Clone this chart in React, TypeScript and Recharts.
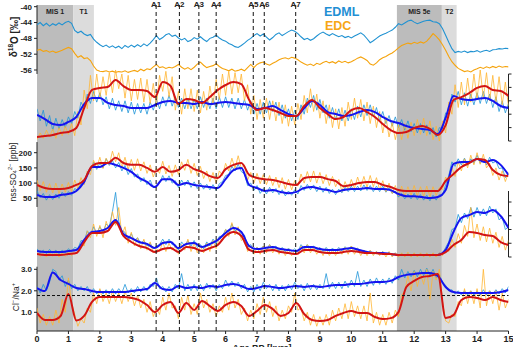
import React from "react";
import {
  ComposedChart,
  Line,
  XAxis,
  YAxis,
  ReferenceArea,
  ReferenceLine,
} from "recharts";

const W = 513;
const H = 347;
const TOP = 5;
const BOTTOM = 331;
const AXIS_W = 0.01; // axes must have some width or Recharts skips them

// sample grids, kyr
const RAW_AGES = Array.from({ length: 151 }, (_, i) => i / 10);
const SMOOTH_AGES = Array.from({ length: 61 }, (_, i) => i / 4);

const STAGES = ["MIS 1", "T1", "MIS 5e", "T2"];
const STAGE_FROM = [0, 1.15, 11.45, 12.88];
const STAGE_TO = [1.15, 1.81, 12.88, 13.35];

const EVENTS = ["A1", "A2", "A3", "A4", "A5", "A6", "A7"];
const EVENT_AGES = [3.79, 4.53, 5.15, 5.7, 6.88, 7.23, 8.23];

const X_TICKS = [0, 1, 2, 3, 4, 5, 6, 7, 8, 9, 10, 11, 12, 13, 14, 15];
const D18O_TICKS = [-56, -52, -48, -44, -40];
const SO4_TICKS = [50, 100, 150, 200];
const CLNA_TICKS = [1, 2, 3];
const P2_TICKS = [0, 1, 2, 3, 4, 5];
const P4_TICKS = [1, 2, 3, 4, 5];
const SEAWATER_CLNA = 1.78;

// δ18O, 0.1 kyr steps
const D18O_EDML = [
  -44.6, -44.0, -44.8, -44.2, -44.9, -44.3, -44.7, -44.1, -44.6, -44.0,
  -43.7, -44.2, -46.0, -46.6, -46.2, -46.9, -47.3, -47.0, -48.2, -49.0,
  -49.6, -50.1, -49.7, -50.3, -49.9, -50.4, -50.0, -50.6, -49.8, -50.3,
  -49.7, -50.2, -49.6, -50.1, -49.4, -49.9, -49.2, -48.3, -47.3, -48.3,
  -47.8, -47.1, -46.8, -47.5, -47.2, -47.9, -48.4, -48.0, -48.8, -48.5,
  -47.8, -48.2, -47.6, -48.3, -48.8, -48.0, -47.7, -47.2, -47.9, -48.4,
  -48.7, -49.3, -49.6, -50.1, -50.3, -49.8, -49.2, -48.5, -48.0, -47.3,
  -46.8, -47.4, -46.9, -47.7, -48.4, -47.8, -47.0, -46.6, -47.3, -46.8,
  -46.3, -45.9, -46.2, -46.8, -47.6, -48.3, -48.0, -48.5, -48.1, -47.4,
  -46.8, -46.4, -46.9, -47.3, -46.8, -47.2, -47.6, -47.3, -47.8, -47.5,
  -47.9, -47.4, -47.0, -46.6, -47.2, -48.1, -49.1, -48.6, -48.0, -47.4,
  -47.0, -46.7, -46.3, -45.9, -45.2, -44.3, -44.6, -44.1, -43.6, -43.4,
  -43.9, -44.3, -44.0, -43.7, -43.5, -43.4, -43.8, -43.9, -44.3, -45.5,
  -47.2, -49.0, -50.6, -51.6, -51.3, -51.5, -51.2, -51.6, -51.3, -51.4,
  -51.1, -51.5, -51.2, -51.0, -51.3, -50.9, -50.8, -50.6, -50.7, -50.5,
  -50.6,
];
const D18O_EDC = [
  -51.0, -50.8, -51.3, -51.1, -51.5, -51.2, -51.6, -51.3, -51.0, -50.6,
  -50.3, -50.6, -51.8, -52.8, -52.4, -53.1, -52.9, -53.6, -55.0, -56.0,
  -56.3, -56.4, -56.2, -56.5, -56.3, -56.6, -56.4, -56.5, -56.2, -56.6,
  -56.3, -56.1, -56.4, -55.8, -56.2, -55.7, -55.9, -55.2, -54.6, -55.4,
  -55.2, -55.6, -55.3, -55.5, -55.1, -54.6, -55.3, -55.8, -55.4, -55.9,
  -55.3, -54.5, -54.0, -54.8, -55.4, -55.1, -54.9, -54.4, -55.1, -55.6,
  -55.9, -56.2, -55.8, -56.3, -56.1, -55.8, -56.2, -55.4, -54.6, -55.4,
  -54.6, -54.2, -54.0, -54.5, -54.8, -54.3, -53.9, -53.4, -53.1, -52.9,
  -53.2, -52.8, -53.0, -53.4, -54.0, -54.4, -54.8, -54.5, -54.9, -54.3,
  -54.6, -54.1, -53.8, -54.2, -53.9, -54.3, -53.7, -54.1, -53.8, -54.2,
  -53.9, -53.5, -53.0, -52.7, -53.1, -53.6, -54.5, -54.8, -54.2, -53.4,
  -52.9, -52.6, -52.1, -51.7, -51.1, -50.4, -49.8, -49.5, -49.2, -49.4,
  -49.0, -49.3, -48.9, -49.2, -48.7, -47.8, -46.8, -47.5, -48.4, -49.6,
  -51.0, -52.6, -53.9, -54.8, -55.6, -56.0, -56.4, -56.2, -56.5, -56.0,
  -55.7, -55.3, -55.6, -55.2, -55.5, -55.1, -55.4, -55.0, -55.3, -55.1,
  -55.2,
];

// second record (right axis, upper), raw 0.1 kyr and smoothed 0.25 kyr
const P2_EDML_RAW = [
  2.4, 1.5, 2.3, 1.1, 1.9, 0.8, 1.7, 0.9, 1.6, 1.0,
  1.8, 1.3, 2.2, 1.7, 2.9, 2.4, 3.5, 2.8, 3.7, 2.9,
  3.6, 2.7, 3.3, 2.4, 3.2, 2.3, 3.0, 2.2, 3.0, 2.1,
  2.9, 2.0, 2.8, 2.1, 2.8, 2.0, 2.9, 2.3, 3.1, 2.4,
  3.3, 2.6, 3.4, 2.6, 3.3, 2.5, 3.2, 2.4, 3.2, 2.4,
  3.1, 2.4, 3.3, 2.5, 3.2, 2.4, 3.2, 2.4, 3.3, 2.5,
  3.3, 2.5, 3.2, 2.4, 3.2, 2.4, 3.1, 2.3, 3.0, 2.0,
  2.8, 2.0, 2.9, 2.1, 3.0, 2.2, 2.9, 1.9, 2.7, 1.7,
  2.4, 1.5, 2.3, 1.6, 2.7, 2.0, 3.2, 2.5, 3.4, 2.3,
  3.1, 2.1, 2.7, 1.7, 2.5, 1.6, 2.4, 1.5, 2.3, 1.5,
  2.4, 1.6, 2.6, 1.8, 2.7, 1.9, 2.7, 1.8, 2.5, 1.5,
  2.2, 1.3, 1.9, 1.1, 1.8, 1.0, 1.6, 0.8, 1.5, 0.7,
  1.3, 0.6, 1.3, 0.6, 1.2, 0.5, 1.0, 0.3, 1.0, 0.9,
  2.1, 2.0, 3.5, 2.9, 3.7, 2.7, 3.6, 2.6, 3.5, 2.7,
  3.6, 2.8, 3.7, 2.8, 3.5, 2.5, 3.3, 2.2, 3.0, 2.1,
  2.8,
];
const P2_EDC_RAW = [
  0.1, 0.6, 0.2, 0.8, 0.3, 0.9, 0.2, 1.0, 0.4, 1.1,
  0.5, 1.3, 0.4, 2.2, 1.2, 3.8, 2.4, 4.9, 3.0, 5.0,
  3.2, 4.8, 3.4, 5.1, 3.6, 5.3, 3.9, 5.0, 3.2, 4.9,
  3.0, 4.6, 3.1, 4.7, 2.9, 4.6, 2.8, 4.3, 2.6, 4.9,
  3.7, 5.2, 3.3, 4.8, 2.3, 3.7, 2.0, 3.9, 2.4, 3.9,
  2.2, 3.8, 2.1, 3.7, 2.3, 4.1, 2.7, 4.6, 3.1, 5.0,
  3.4, 5.2, 3.5, 5.1, 3.6, 5.0, 3.0, 4.2, 2.0, 3.4,
  1.6, 3.1, 1.7, 3.2, 1.6, 3.0, 1.5, 2.9, 1.3, 2.7,
  1.1, 2.6, 1.2, 2.8, 1.6, 3.4, 2.1, 3.9, 2.2, 3.5,
  1.7, 3.0, 1.3, 2.7, 1.0, 2.4, 0.9, 2.5, 1.1, 2.9,
  1.6, 3.2, 1.7, 3.1, 1.5, 2.9, 1.3, 2.6, 1.0, 2.2,
  0.6, 1.8, 0.3, 1.4, 0.1, 1.2, 0.1, 1.3, 0.2, 1.4,
  0.4, 1.6, 0.5, 1.7, 0.4, 1.5, 0.1, 1.1, 0.0, 1.5,
  0.6, 2.9, 2.0, 4.2, 2.5, 4.4, 2.7, 4.7, 2.9, 5.0,
  3.1, 5.3, 3.2, 5.1, 3.0, 4.9, 2.9, 4.8, 2.7, 4.4,
  2.6,
];
const P2_EDML_SMOOTH = [
  1.94, 1.64, 1.27, 1.19, 1.42, 1.79, 2.76, 3.21, 3.21, 2.84,
  2.69, 2.61, 2.46, 2.46, 2.46, 2.69, 2.91, 2.99, 2.84, 2.84,
  2.76, 2.91, 2.76, 2.84, 2.91, 2.84, 2.76, 2.69, 2.39, 2.46,
  2.61, 2.31, 2.01, 1.87, 2.46, 2.99, 2.69, 2.16, 2.01, 1.87,
  1.94, 2.16, 2.31, 2.16, 1.79, 1.49, 1.34, 1.12, 0.97, 0.9,
  0.82, 0.52, 1.72, 3.36, 3.13, 3.06, 3.13, 3.21, 2.99, 2.61,
  2.46,
];
const P2_EDC_SMOOTH = [
  0.3, 0.37, 0.45, 0.6, 0.67, 0.97, 2.46, 3.81, 3.96, 4.03,
  4.55, 4.1, 3.81, 3.81, 3.73, 3.28, 4.4, 4.1, 2.76, 3.13,
  3.06, 2.84, 3.28, 3.81, 4.18, 4.4, 4.25, 3.06, 2.31, 2.46,
  2.31, 2.09, 1.87, 1.87, 2.61, 3.06, 2.46, 2.01, 1.64, 1.79,
  2.31, 2.46, 2.16, 1.79, 1.27, 0.82, 0.6, 0.67, 0.97, 1.12,
  0.9, 0.45, 1.19, 3.06, 3.28, 3.58, 3.96, 4.1, 3.81, 3.73,
  3.36,
];

// nss-SO4 2- [ppb]
const SO4_EDML_RAW = [
  75, 52, 66, 44, 62, 46, 64, 50, 70, 56,
  72, 60, 82, 76, 100, 98, 135, 140, 168, 145,
  165, 150, 180, 158, 175, 150, 168, 140, 158, 128,
  148, 120, 130, 105, 118, 95, 110, 85, 92, 100,
  125, 105, 124, 100, 108, 85, 110, 92, 110, 86,
  104, 82, 100, 80, 96, 78, 95, 76, 98, 105,
  125, 128, 155, 140, 162, 138, 130, 92, 100, 76,
  92, 66, 82, 64, 86, 68, 82, 62, 78, 58,
  74, 60, 78, 64, 92, 76, 96, 78, 94, 72,
  90, 70, 86, 66, 80, 62, 80, 68, 86, 72,
  90, 72, 90, 74, 94, 76, 92, 72, 90, 72,
  90, 70, 84, 66, 74, 54, 66, 48, 64, 48,
  66, 46, 62, 44, 60, 42, 60, 44, 62, 60,
  95, 125, 170, 155, 180, 160, 182, 158, 180, 165,
  192, 165, 180, 160, 185, 166, 172, 148, 150, 118,
  130,
];
const SO4_EDC_RAW = [
  110, 75, 105, 70, 98, 68, 100, 66, 97, 70,
  102, 72, 110, 82, 118, 95, 140, 128, 175, 150,
  185, 148, 182, 160, 205, 170, 200, 150, 185, 145,
  178, 142, 180, 140, 170, 132, 160, 120, 150, 132,
  172, 130, 158, 122, 160, 128, 170, 142, 178, 132,
  165, 125, 155, 115, 140, 105, 135, 100, 140, 125,
  165, 140, 182, 148, 190, 148, 160, 110, 135, 100,
  132, 98, 128, 95, 125, 92, 120, 85, 118, 80,
  112, 78, 108, 90, 130, 100, 138, 104, 140, 100,
  135, 98, 128, 92, 122, 88, 112, 72, 105, 78,
  112, 82, 120, 88, 122, 86, 125, 88, 118, 78,
  108, 72, 100, 66, 92, 58, 90, 55, 88, 60,
  92, 58, 88, 56, 90, 55, 88, 60, 85, 78,
  120, 105, 150, 122, 170, 140, 180, 150, 192, 160,
  200, 162, 195, 150, 165, 125, 150, 110, 140, 105,
  135,
];
const SO4_EDML_SMOOTH = [
  61, 54, 54, 61, 64, 74, 104, 153, 153, 166,
  160, 150, 137, 117, 104, 87, 113, 113, 94, 100,
  94, 90, 87, 84, 113, 143, 150, 94, 84, 74,
  77, 71, 67, 71, 84, 87, 81, 77, 71, 77,
  81, 81, 84, 81, 81, 77, 64, 57, 57, 54,
  51, 54, 77, 163, 169, 169, 179, 169, 176, 160,
  127,
];
const SO4_EDC_SMOOTH = [
  94, 84, 81, 81, 84, 94, 110, 156, 166, 166,
  183, 166, 160, 160, 150, 137, 153, 137, 143, 160,
  146, 137, 123, 117, 146, 160, 166, 127, 117, 113,
  110, 104, 97, 94, 117, 120, 120, 113, 107, 90,
  94, 100, 104, 104, 94, 87, 77, 74, 74, 74,
  74, 74, 107, 130, 153, 166, 179, 176, 143, 127,
  123,
];

// fourth record (right axis, lower)
const P4_EDML_RAW = [
  1.6, 1.3, 1.5, 1.25, 1.55, 1.3, 1.5, 1.25, 1.5, 1.3,
  1.6, 1.4, 1.7, 1.6, 2.2, 2.1, 2.9, 2.6, 3.2, 2.7,
  3.2, 2.8, 3.4, 3.2, 4.3, 5.7, 3.6, 2.9, 2.8, 2.3,
  2.7, 2.2, 2.4, 2.0, 2.2, 1.8, 2.0, 1.6, 1.8, 1.9,
  2.3, 1.9, 2.3, 1.9, 1.9, 1.5, 2.1, 1.8, 2.2, 1.8,
  2.2, 1.7, 1.9, 1.6, 2.1, 1.8, 2.3, 2.0, 2.5, 2.5,
  3.0, 2.8, 3.4, 2.9, 3.1, 2.5, 2.6, 1.7, 1.9, 1.5,
  1.7, 1.5, 1.8, 1.5, 1.9, 1.6, 1.8, 1.4, 1.7, 1.4,
  1.65, 1.4, 1.6, 1.4, 1.9, 1.6, 1.9, 1.6, 1.8, 1.5,
  1.7, 1.4, 1.7, 1.4, 1.65, 1.4, 1.7, 1.45, 1.75, 1.5,
  1.8, 1.5, 1.65, 1.35, 1.5, 1.25, 1.45, 1.2, 1.4, 1.2,
  1.4, 1.15, 1.35, 1.1, 1.3, 1.05, 1.25, 1.05, 1.25, 1.05,
  1.25, 1.05, 1.25, 1.05, 1.25, 1.05, 1.25, 1.05, 1.3, 1.2,
  1.7, 2.1, 3.0, 3.1, 4.1, 3.5, 4.2, 3.8, 4.6, 3.9,
  4.6, 4.0, 4.5, 4.0, 4.7, 4.2, 4.5, 3.7, 3.9, 3.0,
  3.2,
];
const P4_EDC_RAW = [
  1.3, 1.05, 1.25, 1.0, 1.3, 1.05, 1.35, 1.0, 1.3, 1.05,
  1.4, 1.1, 1.5, 1.4, 2.0, 1.8, 2.9, 2.4, 3.4, 2.5,
  3.3, 2.4, 3.6, 2.9, 4.3, 3.3, 4.6, 2.6, 3.2, 2.0,
  2.8, 1.8, 2.4, 1.6, 2.3, 1.5, 2.1, 1.3, 1.6, 1.4,
  2.1, 1.4, 2.0, 1.5, 1.8, 1.2, 1.9, 1.5, 2.3, 1.4,
  2.0, 1.3, 1.8, 1.3, 2.0, 1.4, 2.2, 1.6, 2.4, 2.2,
  3.0, 2.5, 3.5, 2.6, 3.2, 2.2, 2.4, 1.4, 1.8, 1.2,
  1.7, 1.2, 1.8, 1.3, 1.9, 1.3, 1.7, 1.2, 1.6, 1.1,
  1.6, 1.1, 1.5, 1.2, 1.8, 1.3, 1.9, 1.3, 1.7, 1.2,
  1.6, 1.1, 1.6, 1.1, 1.5, 1.1, 1.6, 1.2, 1.7, 1.2,
  1.8, 1.2, 1.6, 1.1, 1.5, 1.1, 1.5, 1.1, 1.4, 1.1,
  1.4, 1.0, 1.4, 1.0, 1.3, 1.0, 1.3, 1.0, 1.35, 1.0,
  1.3, 1.0, 1.3, 1.0, 1.3, 1.0, 1.3, 1.0, 1.3, 1.1,
  1.6, 1.4, 2.3, 1.7, 2.7, 2.0, 3.3, 2.5, 4.6, 2.4,
  3.4, 2.2, 3.2, 2.1, 3.1, 2.0, 2.8, 1.7, 2.5, 1.5,
  2.2,
];
const P4_EDML_SMOOTH = [
  1.44, 1.36, 1.36, 1.36, 1.44, 1.51, 2.24, 2.82, 2.89, 3.11,
  3.69, 2.67, 2.38, 2.09, 1.95, 1.65, 2.02, 2.09, 1.65, 1.95,
  2.02, 1.73, 1.95, 2.24, 2.75, 3.11, 2.82, 1.8, 1.58, 1.65,
  1.73, 1.58, 1.51, 1.44, 1.73, 1.73, 1.58, 1.51, 1.51, 1.58,
  1.65, 1.51, 1.36, 1.29, 1.29, 1.22, 1.15, 1.15, 1.15, 1.15,
  1.15, 1.15, 1.51, 2.82, 3.84, 4.05, 4.27, 4.2, 4.42, 3.98,
  3.11,
];
const P4_EDC_SMOOTH = [
  1.22, 1.15, 1.15, 1.15, 1.22, 1.29, 2.09, 2.75, 2.75, 2.89,
  3.55, 2.53, 2.09, 1.8, 1.65, 1.36, 1.58, 1.65, 1.36, 1.73,
  1.65, 1.44, 1.65, 1.87, 2.53, 2.82, 2.53, 1.51, 1.36, 1.44,
  1.51, 1.36, 1.29, 1.22, 1.51, 1.51, 1.36, 1.29, 1.29, 1.36,
  1.44, 1.36, 1.29, 1.29, 1.22, 1.22, 1.15, 1.15, 1.15, 1.15,
  1.15, 1.15, 1.36, 1.87, 2.24, 2.82, 2.75, 2.6, 2.53, 2.09,
  1.87,
];

// Cl-/Na+
const CLNA_EDML_RAW = [
  2.2, 1.9, 2.3, 2.0, 2.4, 3.0, 2.9, 2.5, 2.7, 2.2,
  2.5, 2.1, 2.3, 2.0, 2.2, 2.0, 2.2, 1.9, 2.1, 1.85,
  2.05, 1.85, 2.05, 1.85, 2.1, 1.85, 2.1, 1.9, 2.3, 1.9,
  2.1, 1.9, 2.2, 1.95, 2.2, 2.0, 2.3, 2.2, 2.6, 2.1,
  2.2, 1.95, 2.2, 1.95, 2.3, 2.1, 2.8, 2.0, 2.3, 2.0,
  2.3, 2.0, 2.3, 2.0, 2.35, 2.1, 2.3, 2.0, 2.3, 2.1,
  2.5, 2.2, 2.45, 2.2, 2.4, 2.1, 2.3, 1.95, 2.2, 1.95,
  2.3, 2.0, 2.4, 2.1, 2.3, 2.0, 2.3, 2.0, 2.25, 2.0,
  2.3, 2.05, 2.4, 2.1, 2.3, 2.0, 2.35, 2.05, 2.3, 2.05,
  2.3, 2.1, 2.8, 2.1, 2.4, 2.1, 2.4, 2.1, 2.45, 2.15,
  2.5, 2.2, 2.9, 2.2, 2.5, 2.2, 2.55, 2.25, 2.6, 2.3,
  2.55, 2.3, 2.6, 2.35, 2.7, 2.5, 3.0, 2.6, 2.9, 2.65,
  2.95, 2.65, 3.0, 2.7, 3.05, 2.7, 3.0, 2.6, 2.75, 2.4,
  2.25, 2.0, 2.05, 1.85, 2.0, 1.8, 2.0, 1.8, 2.0, 1.8,
  2.0, 1.8, 2.05, 1.8, 2.0, 1.85, 2.05, 1.85, 2.1, 1.9,
  2.2,
];
const CLNA_EDC_RAW = [
  1.2, 0.5, 0.9, 0.4, 0.8, 0.4, 1.1, 0.5, 1.6, 1.0,
  2.6, 1.4, 0.9, 0.35, 0.7, 0.5, 1.2, 1.0, 1.9, 1.4,
  2.1, 1.5, 1.9, 1.4, 2.0, 1.5, 1.9, 1.4, 2.0, 1.5,
  1.9, 1.3, 1.8, 1.2, 1.6, 1.0, 1.5, 0.8, 1.2, 0.9,
  1.7, 1.1, 1.9, 1.2, 1.3, 0.7, 1.7, 1.1, 1.8, 0.9,
  1.4, 0.9, 1.9, 1.2, 1.6, 1.0, 1.4, 0.8, 1.3, 1.0,
  1.7, 1.1, 1.9, 1.2, 1.6, 0.9, 1.2, 0.6, 1.1, 0.7,
  1.4, 0.9, 1.7, 1.0, 1.5, 0.8, 1.3, 0.6, 1.1, 0.7,
  1.3, 1.0, 1.9, 1.1, 1.2, 0.6, 1.0, 0.4, 0.9, 0.35,
  0.8, 0.4, 0.9, 0.4, 1.1, 0.6, 1.2, 0.7, 1.4, 0.7,
  1.5, 0.8, 1.3, 0.7, 1.3, 0.6, 1.9, 0.5, 1.0, 0.4,
  0.9, 0.4, 1.0, 0.5, 1.1, 0.8, 1.8, 2.0, 2.7, 2.0,
  2.9, 2.2, 2.8, 2.3, 3.0, 1.6, 2.9, 2.5, 3.0, 1.5,
  0.6, 0.5, 0.9, 0.8, 1.5, 1.3, 2.1, 1.4, 2.0, 1.4,
  2.1, 1.2, 3.0, 1.3, 2.0, 1.4, 2.0, 1.1, 1.9, 1.2,
  1.6,
];
const CLNA_EDML_SMOOTH = [
  2.13, 1.99, 2.85, 2.5, 2.32, 2.13, 2.08, 1.99, 1.94, 1.94,
  1.94, 1.94, 1.99, 2.04, 2.08, 2.36, 2.08, 2.04, 2.22, 2.13,
  2.18, 2.13, 2.22, 2.18, 2.27, 2.32, 2.22, 2.08, 2.13, 2.22,
  2.18, 2.13, 2.18, 2.22, 2.18, 2.22, 2.18, 2.22, 2.27, 2.27,
  2.32, 2.32, 2.36, 2.41, 2.41, 2.46, 2.64, 2.74, 2.78, 2.83,
  2.83, 2.69, 2.18, 1.94, 1.9, 1.9, 1.9, 1.9, 1.9, 1.94,
  2.04,
];
const CLNA_EDC_SMOOTH = [
  0.97, 0.64, 0.64, 0.83, 1.85, 0.62, 0.83, 1.48, 1.71, 1.71,
  1.71, 1.71, 1.67, 1.57, 1.34, 1.01, 1.34, 1.48, 0.97, 1.43,
  1.11, 1.52, 1.29, 1.06, 1.34, 1.48, 1.29, 0.83, 1.06, 1.34,
  1.15, 0.83, 0.97, 1.43, 0.92, 0.64, 0.59, 0.64, 0.83, 0.97,
  1.06, 0.97, 0.97, 0.78, 0.69, 0.73, 1.01, 2.18, 2.46, 2.64,
  2.69, 2.78, 0.73, 0.87, 1.57, 1.71, 1.67, 1.57, 1.71, 1.57,
  1.48,
];

const rows = (ages: number[], values: number[]) =>
  ages.map((age, i) => ({ age, v: values[i] }));

// domain that puts hiVal at pixel hiPx and loVal at pixel loPx
const band = (hiVal: number, hiPx: number, loVal: number, loPx: number): [number, number] => {
  const pxPerUnit = (loPx - hiPx) / (hiVal - loVal);
  return [loVal - (BOTTOM - loPx) / pxPerUnit, hiVal + (hiPx - TOP) / pxPerUnit];
};

const D18O_DOMAIN = band(-40, 6.7, -56, 70);
const P2_DOMAIN = band(5, 74, 0, 141);
const SO4_DOMAIN = band(200, 152.7, 50, 198.3);
const P4_DOMAIN = band(5, 202, 1, 257);
const CLNA_DOMAIN = band(3, 269.3, 1, 312.3);

const INK = "#222";
const EDML_LIGHT = "#2196d8";
const EDC_LIGHT = "#ffb532";
const EDML_DARK = "#1414f0";
const EDC_DARK = "#d21414";
const FONT = "Arial, 'Liberation Sans', sans-serif";

const tickFont = { fontSize: 8, fontWeight: 700, fill: INK, fontFamily: FONT };

function Title({ x, y, size, bold, children }: { x: number; y: number; size: number; bold?: boolean; children: React.ReactNode }) {
  return (
    <text
      x={x}
      y={y}
      transform={`rotate(-90 ${x} ${y})`}
      textAnchor="middle"
      dominantBaseline="central"
      fontSize={size}
      fontWeight={bold ? 700 : 400}
      fontFamily={FONT}
      fill={INK}
    >
      {children}
    </text>
  );
}

// right-hand axes show tick marks only, their numbers fall outside the picture
const NoLabel = () => <g />;

export default function App() {
  const axisSeg = (id: string, x: number, y1: number, y2: number) => (
    <ReferenceLine
      key={`seg-${id}`}
      yAxisId={id}
      segment={[{ x, y: y1 }, { x, y: y2 }]}
      stroke={INK}
      strokeWidth={1}
      ifOverflow="visible"
    />
  );

  const raw = (id: string, values: number[], color: string, key: string) => (
    <Line
      key={key}
      yAxisId={id}
      data={rows(RAW_AGES, values)}
      dataKey="v"
      type="linear"
      stroke={color}
      strokeWidth={0.8}
      dot={false}
      isAnimationActive={false}
    />
  );
  const smooth = (id: string, values: number[], color: string, key: string) => (
    <Line
      key={key}
      yAxisId={id}
      data={rows(SMOOTH_AGES, values)}
      dataKey="v"
      type="monotone"
      stroke={color}
      strokeWidth={2}
      dot={false}
      isAnimationActive={false}
    />
  );

  const leftAxis = {
    width: AXIS_W,
    allowDataOverflow: true,
    interval: 0 as const,
    axisLine: false,
    tickSize: 3,
    tickMargin: 2,
    tick: tickFont,
    tickLine: { stroke: INK },
  };
  const rightAxis = {
    orientation: "right" as const,
    width: AXIS_W,
    allowDataOverflow: true,
    interval: 0 as const,
    axisLine: false,
    tickSize: 3,
    tick: NoLabel,
    tickLine: { stroke: INK },
  };

  return (
    <div style={{ position: "absolute", left: 0, top: 0, width: W, height: H, fontFamily: FONT }}>
      <ComposedChart
        width={W}
        height={H}
        margin={{ top: TOP, right: 4.5 - 2 * AXIS_W, bottom: 0, left: 37 - 3 * AXIS_W }}
      >
        <XAxis
          dataKey="age"
          type="number"
          domain={[0, 15]}
          allowDataOverflow
          ticks={X_TICKS}
          interval={0}
          height={H - BOTTOM}
          tickSize={3}
          tickMargin={2}
          tick={{ ...tickFont, fontSize: 9 }}
          axisLine={{ stroke: INK }}
          tickLine={{ stroke: INK }}
          label={{
            content: () => (
              <text x={262} y={350.5} textAnchor="middle" fontSize={9} fontWeight={700} fontFamily={FONT} fill={INK}>
                Age BP [kyrs]
              </text>
            ),
          }}
        />
        <YAxis
          yAxisId="d18o"
          {...leftAxis}
          domain={D18O_DOMAIN}
          ticks={D18O_TICKS}
          label={{
            content: () => (
              <Title x={13.5} y={37} size={10} bold>
                δ<tspan dy={-3.5} fontSize={6.5}>18</tspan>
                <tspan dy={3.5}>O [‰]</tspan>
              </Title>
            ),
          }}
        />
        <YAxis
          yAxisId="so4"
          {...leftAxis}
          domain={SO4_DOMAIN}
          ticks={SO4_TICKS}
          label={{
            content: () => (
              <Title x={13} y={172} size={8.5}>
                nss-SO<tspan dy={2} fontSize={5.5}>4</tspan>
                <tspan dy={-5} fontSize={5.5}>2−</tspan>
                <tspan dy={3}> [ppb]</tspan>
              </Title>
            ),
          }}
        />
        <YAxis
          yAxisId="clna"
          {...leftAxis}
          domain={CLNA_DOMAIN}
          ticks={CLNA_TICKS}
          tickFormatter={(v: number) => v.toFixed(1)}
          label={{
            content: () => (
              <Title x={16} y={297} size={8.5}>
                Cl<tspan dy={-3} fontSize={6}>−</tspan>
                <tspan dy={3}>/Na</tspan>
                <tspan dy={-3} fontSize={6}>+</tspan>
              </Title>
            ),
          }}
        />
        <YAxis yAxisId="p2" {...rightAxis} domain={P2_DOMAIN} ticks={P2_TICKS} />
        <YAxis yAxisId="p4" {...rightAxis} domain={P4_DOMAIN} ticks={P4_TICKS} />

        {STAGES.map((name, i) => (
          <ReferenceArea
            key={name}
            yAxisId="d18o"
            x1={STAGE_FROM[i]}
            x2={STAGE_TO[i]}
            fill={i % 2 === 0 ? "#bcbcbc" : "#dcdcdc"}
            fillOpacity={1}
            stroke="none"
            label={{ value: name, position: "insideTop", offset: 4.5, fontSize: 7, fontWeight: 700, fill: INK, fontFamily: FONT }}
          />
        ))}

        {axisSeg("d18o", 0, -39.6, -57)}
        {axisSeg("so4", 0, 235, 21.5)}
        {axisSeg("clna", 0, 3.12, 0.14)}
        {axisSeg("p2", 15, 5, 0)}
        {axisSeg("p4", 15, 5.8, 1)}

        <Line
          yAxisId="d18o"
          data={rows(RAW_AGES, D18O_EDML)}
          dataKey="v"
          stroke="#2092d2"
          strokeWidth={1.1}
          dot={false}
          isAnimationActive={false}
        />
        <Line
          yAxisId="d18o"
          data={rows(RAW_AGES, D18O_EDC)}
          dataKey="v"
          stroke="#f5a30c"
          strokeWidth={1.1}
          dot={false}
          isAnimationActive={false}
        />

        {raw("p2", P2_EDML_RAW, EDML_LIGHT, "p2-edml-raw")}
        {raw("p2", P2_EDC_RAW, EDC_LIGHT, "p2-edc-raw")}
        {smooth("p2", P2_EDML_SMOOTH, EDML_DARK, "p2-edml")}
        {smooth("p2", P2_EDC_SMOOTH, EDC_DARK, "p2-edc")}

        {raw("so4", SO4_EDML_RAW, EDML_LIGHT, "so4-edml-raw")}
        {raw("so4", SO4_EDC_RAW, EDC_LIGHT, "so4-edc-raw")}
        {smooth("so4", SO4_EDML_SMOOTH, EDML_DARK, "so4-edml")}
        {smooth("so4", SO4_EDC_SMOOTH, EDC_DARK, "so4-edc")}

        {raw("p4", P4_EDML_RAW, EDML_LIGHT, "p4-edml-raw")}
        {raw("p4", P4_EDC_RAW, EDC_LIGHT, "p4-edc-raw")}
        {smooth("p4", P4_EDML_SMOOTH, EDML_DARK, "p4-edml")}
        {smooth("p4", P4_EDC_SMOOTH, EDC_DARK, "p4-edc")}

        {raw("clna", CLNA_EDML_RAW, EDML_LIGHT, "clna-edml-raw")}
        {raw("clna", CLNA_EDC_RAW, EDC_LIGHT, "clna-edc-raw")}
        {smooth("clna", CLNA_EDML_SMOOTH, EDML_DARK, "clna-edml")}
        {smooth("clna", CLNA_EDC_SMOOTH, EDC_DARK, "clna-edc")}

        <ReferenceLine yAxisId="clna" y={SEAWATER_CLNA} stroke="#111" strokeWidth={1} strokeDasharray="3 2" />

        {EVENTS.map((name, i) => (
          <ReferenceLine
            key={name}
            yAxisId="d18o"
            x={EVENT_AGES[i]}
            stroke="#111"
            strokeWidth={1}
            strokeDasharray="4 3"
            label={{ value: name, position: "top", offset: -2, fontSize: 8, fontWeight: 700, fill: INK, fontFamily: FONT }}
          />
        ))}
      </ComposedChart>
      <div style={{ position: "absolute", left: 324, top: 6, fontSize: 12.5, lineHeight: "12px", fontWeight: 700, color: "#1f8fd4" }}>
        EDML
      </div>
      <div style={{ position: "absolute", left: 325, top: 20, fontSize: 12.5, lineHeight: "12px", fontWeight: 700, color: "#f7a614" }}>
        EDC
      </div>
    </div>
  );
}
